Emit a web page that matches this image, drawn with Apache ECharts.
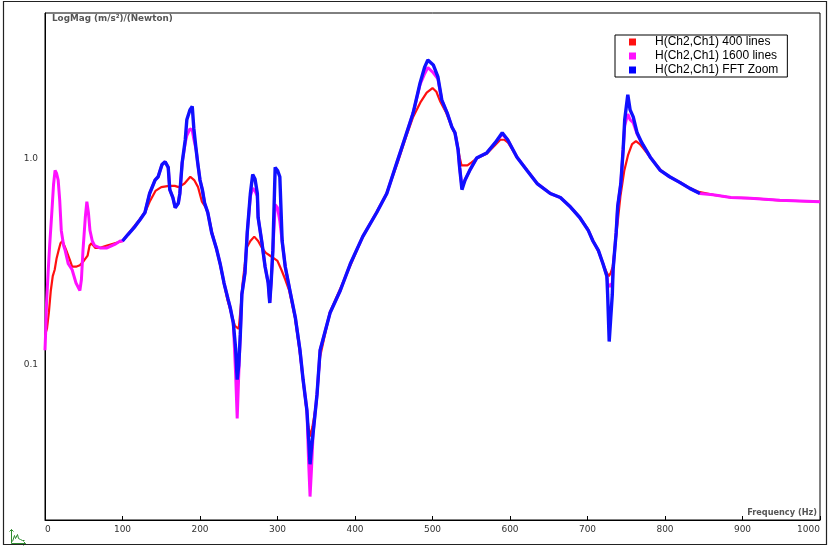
<!DOCTYPE html>
<html>
<head>
<meta charset="utf-8">
<script src="https://cdn.jsdelivr.net/npm/echarts@6/dist/echarts.min.js"></script>
<style>html,body{margin:0;padding:0;background:#fff}#c{width:836px;height:548px}</style>
</head>
<body>
<div id="c"></div>
<script>
// ---- Data (frequency in Hz, magnitude in (m/s²)/N) ----
const seriesNames = ['H(Ch2,Ch1) 400 lines', 'H(Ch2,Ch1) 1600 lines', 'H(Ch2,Ch1) FFT Zoom'];

const freq400 = [0,2.5,5,7.5,10,12.5,15,17.5,20,22.5,25,27.5,30,32.5,35,37.5,40,45,50,55,57.5,60,65,70,80,90,100,107,115,122.5,130,135,142.5,150,160,167.5,172.5,180,187.5,192.5,197.5,202.5,207.5,210,215,220,225,230,235,240,245,250,252.5,255,257.5,260,265,270,275,280,285,290,295,300,305,310,315,322.5,327.5,332.5,337.5,340,342.5,345,350,355,367.5,380,395,410,427.5,440,455,465,475,485,492.5,500,505,510,517.5,525,530,535,537.5,540,545,550,557.5,570,580,587.5,592.5,597.5,610,622.5,635,652.5,665,677.5,690,700,707.5,715,720,725,727.5,730,732.5,737.5,742.5,747.5,752.5,757.5,762.5,767.5,772.5,780,795,805,820,832.5,845,862.5,885,910,947.5,1000];
const mag400 = [0.14,0.15,0.18,0.23,0.27,0.29,0.33,0.36,0.39,0.40,0.38,0.36,0.34,0.32,0.30,0.30,0.30,0.305,0.32,0.34,0.38,0.39,0.37,0.37,0.38,0.39,0.40,0.43,0.47,0.51,0.56,0.62,0.70,0.73,0.74,0.74,0.73,0.76,0.82,0.79,0.73,0.62,0.58,0.55,0.45,0.38,0.32,0.26,0.21,0.18,0.155,0.15,0.19,0.25,0.30,0.37,0.40,0.42,0.40,0.37,0.35,0.34,0.33,0.32,0.29,0.26,0.23,0.17,0.125,0.088,0.06,0.05,0.045,0.05,0.065,0.11,0.18,0.23,0.31,0.42,0.55,0.67,0.96,1.25,1.60,1.90,2.10,2.21,2.12,1.90,1.68,1.43,1.30,1.02,0.93,0.91,0.93,0.96,1.01,1.06,1.16,1.24,1.24,1.20,1.01,0.88,0.76,0.68,0.65,0.59,0.52,0.46,0.40,0.35,0.31,0.28,0.27,0.28,0.30,0.44,0.66,0.88,1.05,1.18,1.22,1.18,1.12,1.03,0.88,0.82,0.77,0.72,0.69,0.67,0.65,0.645,0.63,0.62];

const freq1600 = [0,1,2,4,6,9,11,13,15,17,19,21,24,26,30,35,40,45,47,49,52,54,56,58,61,64,71,80,90,97,100,107,116,123,129,135,142,146,151,155,159,161,165,168,172,174,177,181,183,187,190,192,195,197,200,203,206,210,215,221,226,231,236,239,243,246,248,250,252,254,258,261,265,268,271,274,275,280,284,288,290,292,294,297,300,303,306,310,316,323,329,333,338,340,342,344,346,351,355,368,381,394,410,428,441,454,465,475,484,490,494,501,507,512,519,525,529,533,535,538,542,548,557,570,581,590,597,609,622,635,652,665,677,690,701,707,714,720,725,726,728,730,732,733,737,739,743,746,748,752,755,759,764,770,781,794,806,819,832,845,862,885,910,948,1000];
const mag1600 = [0.118,0.15,0.20,0.28,0.38,0.565,0.75,0.88,0.85,0.79,0.63,0.45,0.38,0.36,0.31,0.29,0.25,0.23,0.26,0.36,0.52,0.62,0.55,0.45,0.40,0.38,0.37,0.37,0.385,0.40,0.40,0.43,0.47,0.51,0.55,0.68,0.79,0.82,0.94,0.97,0.91,0.71,0.65,0.58,0.61,0.68,0.96,1.20,1.30,1.40,1.38,1.25,1.11,0.96,0.79,0.71,0.61,0.55,0.44,0.37,0.31,0.25,0.21,0.19,0.16,0.09,0.055,0.09,0.14,0.22,0.28,0.44,0.66,0.72,0.70,0.66,0.52,0.39,0.30,0.25,0.20,0.26,0.36,0.60,0.58,0.50,0.40,0.30,0.23,0.17,0.118,0.085,0.060,0.035,0.023,0.032,0.047,0.072,0.118,0.18,0.23,0.31,0.42,0.55,0.68,0.96,1.28,1.67,2.30,2.60,2.78,2.62,2.45,1.93,1.67,1.43,1.34,1.11,0.91,0.73,0.79,0.88,1.01,1.07,1.20,1.32,1.24,1.02,0.88,0.76,0.68,0.65,0.59,0.52,0.45,0.40,0.36,0.31,0.27,0.25,0.24,0.24,0.25,0.29,0.44,0.59,0.76,1.11,1.45,1.65,1.55,1.50,1.32,1.20,1.02,0.88,0.82,0.77,0.72,0.68,0.67,0.65,0.645,0.63,0.62];

const freqZoom = [100,107,116,123,129,135,142,146,151,155,159,161,165,168,172,174,177,181,183,187,190,192,195,197,200,203,206,210,215,221,226,231,236,239,243,246,248,250,252,254,258,261,265,268,271,274,275,280,284,288,290,292,294,297,300,303,306,310,316,323,329,333,338,340,342,344,346,351,355,368,381,394,410,428,441,454,465,475,484,490,494,501,507,512,519,525,529,533,535,538,542,548,557,570,581,590,597,609,622,635,652,665,677,690,701,707,714,720,725,726,728,730,732,733,737,739,743,746,748,752,755,759,764,770,781,794,806,819,832,845];
const magZoom = [0.40,0.43,0.47,0.51,0.55,0.68,0.79,0.82,0.94,0.97,0.91,0.71,0.65,0.58,0.61,0.68,0.96,1.24,1.55,1.73,1.80,1.41,1.11,0.96,0.79,0.71,0.61,0.55,0.44,0.37,0.31,0.25,0.21,0.19,0.16,0.12,0.085,0.10,0.14,0.22,0.28,0.44,0.68,0.84,0.80,0.68,0.52,0.39,0.30,0.25,0.20,0.26,0.36,0.91,0.88,0.82,0.40,0.30,0.23,0.17,0.118,0.085,0.060,0.045,0.033,0.040,0.047,0.072,0.118,0.18,0.23,0.31,0.42,0.55,0.68,0.96,1.28,1.67,2.34,2.80,3.02,2.86,2.50,1.93,1.67,1.43,1.34,1.11,0.91,0.71,0.79,0.88,1.01,1.07,1.20,1.34,1.24,1.02,0.88,0.76,0.68,0.65,0.59,0.52,0.45,0.40,0.36,0.31,0.27,0.22,0.13,0.17,0.22,0.29,0.44,0.59,0.76,1.11,1.55,2.05,1.73,1.60,1.34,1.20,1.02,0.88,0.82,0.77,0.72,0.68];

const xTicks = {min: 0, max: 1000, interval: 100};
const yRange = {min: 0.0177, max: 5.11};

const pairs = (f, v) => f.map((x, i) => [x, v[i]]);

const chart = echarts.init(document.getElementById('c'), null, {renderer: 'canvas'});
const labelFont = {fontFamily: 'DejaVu Sans', fontSize: 9, color: '#333'};
const nameFont = {fontFamily: 'DejaVu Sans', fontWeight: 'bold', color: '#555'};

chart.setOption({
  animation: false,
  backgroundColor: '#fff',
  grid: {left: 45, top: 13, right: 16, bottom: 28, show: true, borderColor: '#000', borderWidth: 1, containLabel: false},
  legend: {
    orient: 'vertical', left: 615, top: 35,
    padding: [1, 9, 1, 14], itemGap: 2, itemWidth: 7, itemHeight: 7, icon: 'rect',
    backgroundColor: '#fff', borderColor: '#000', borderWidth: 1, borderRadius: 0,
    textStyle: {fontFamily: 'Liberation Sans', fontSize: 12, color: '#000', lineHeight: 12, padding: [0, 0, 0, 14]},
    data: seriesNames
  },
  xAxis: {
    type: 'value', min: xTicks.min, max: xTicks.max, interval: xTicks.interval,
    name: 'Frequency (Hz)', nameLocation: 'end', nameGap: -3,
    nameTextStyle: Object.assign({fontSize: 8.2, align: 'right', verticalAlign: 'bottom', padding: [0, 0, 3, 0]}, nameFont),
    axisLine: {show: true, onZero: false, lineStyle: {color: '#000', width: 1}},
    axisTick: {show: true, inside: true, length: 4, lineStyle: {color: '#000'}},
    axisLabel: Object.assign({margin: 5, alignMinLabel: 'left', alignMaxLabel: 'right',
      formatter: v => String(v)}, labelFont),
    splitLine: {show: false}
  },
  yAxis: {
    type: 'log', logBase: 10, min: yRange.min, max: yRange.max,
    name: 'LogMag (m/s²)/(Newton)', nameLocation: 'end', nameGap: -1,
    nameTextStyle: Object.assign({fontSize: 8.8, align: 'left', verticalAlign: 'top', padding: [0, 0, 0, 7]}, nameFont),
    axisLine: {show: true, lineStyle: {color: '#000', width: 1}},
    axisTick: {show: false},
    axisLabel: Object.assign({margin: 7, showMinLabel: false, showMaxLabel: false,
      formatter: v => Number(v).toFixed(1)}, labelFont),
    splitLine: {show: false}
  },
  series: [
    {name: seriesNames[0], type: 'line', data: pairs(freq400, mag400), showSymbol: false, symbol: 'none',
      color: '#ff1010', lineStyle: {width: 2.2, color: '#ff1010'}, z: 2},
    {name: seriesNames[1], type: 'line', data: pairs(freq1600, mag1600), showSymbol: false, symbol: 'none',
      color: '#ff10ff', lineStyle: {width: 3, color: '#ff10ff'}, z: 3},
    {name: seriesNames[2], type: 'line', data: pairs(freqZoom, magZoom), showSymbol: false, symbol: 'none',
      color: '#0000ff', lineStyle: {width: 3.4, color: '#1010ff'}, z: 4}
  ],
  graphic: [
    {type: 'rect', shape: {x: 3.5, y: 1.5, width: 823, height: 543}, style: {fill: 'none', stroke: '#222', lineWidth: 1.2}, silent: true, z: 100},
    {type: 'group', left: 7, top: 527, silent: true, children: [
      {type: 'polyline', shape: {points: [[1, 14], [1, 0]]}, style: {stroke: '#2e8b2e', lineWidth: 1}},
      {type: 'polyline', shape: {points: [[1, 14], [15, 14]]}, style: {stroke: '#2e8b2e', lineWidth: 1}},
      {type: 'polyline', shape: {points: [[-1, 2], [1, 0], [3, 2]]}, style: {stroke: '#2e8b2e', lineWidth: 1, fill: 'none'}},
      {type: 'polyline', shape: {points: [[13, 12], [15, 14], [13, 16]]}, style: {stroke: '#2e8b2e', lineWidth: 1, fill: 'none'}},
      {type: 'polyline', shape: {points: [[2, 12], [4, 6], [5, 9], [7, 5], [8, 9], [10, 10], [12, 11], [14, 11]]}, style: {stroke: '#2e8b2e', lineWidth: 1, fill: 'none'}}
    ]}
  ]
});
</script>
</body>
</html>
